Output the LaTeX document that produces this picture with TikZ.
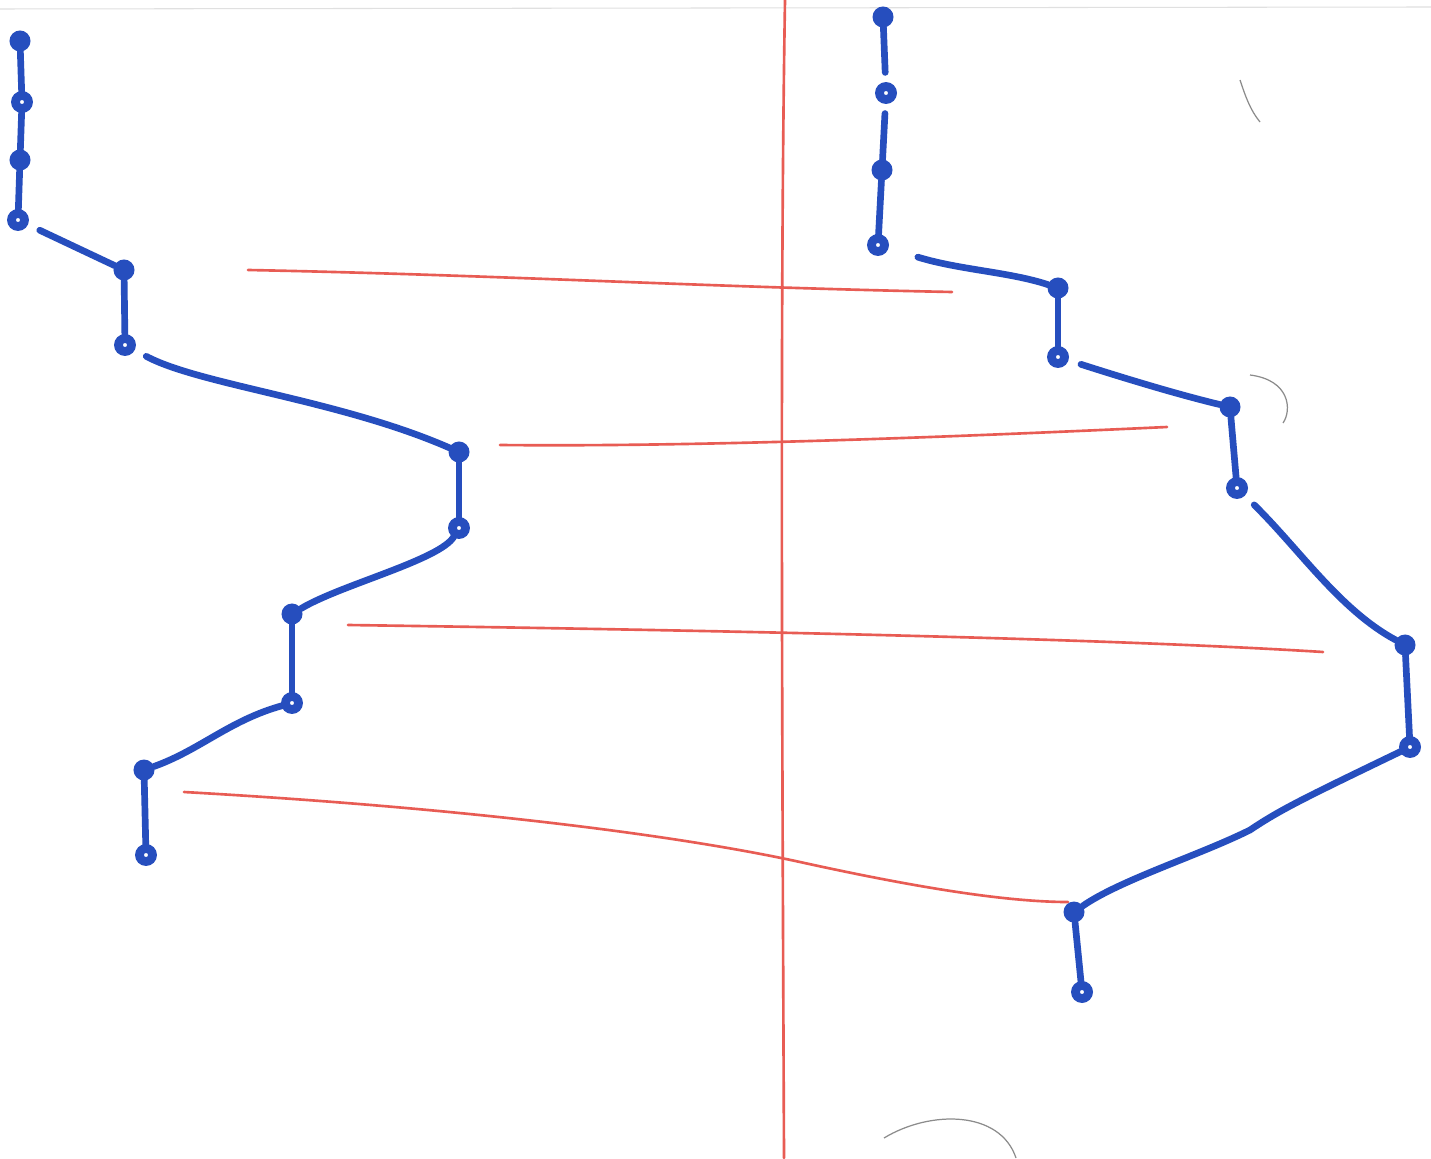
\documentclass[tikz,border=0pt]{standalone}
\begin{document}
\begin{tikzpicture}[x=0.01cm,y=-0.01cm,
  pen/.style={draw=penblue,line width=1.9pt,line cap=round,line join=round},
  redline/.style={draw=redink,line width=0.75pt,line cap=round},
  faint/.style={draw=black!45,line width=0.35pt},
  fdot/.style={circle,fill=penblue,minimum size=0.21cm,inner sep=0pt,outer sep=0pt},
  odot/.style={circle,draw=penblue,line width=2.5pt,fill=white,minimum size=0.13cm,inner sep=0pt,outer sep=1pt}]
\definecolor{penblue}{RGB}{38,78,190}
\definecolor{redink}{RGB}{232,92,84}
\useasboundingbox[fill=white] (0,0) rectangle (1431,1158);
% faint marks
\draw[draw=black!12,line width=0.3pt] (0,9) -- (1431,7);
\draw[faint] (1250,375) .. controls (1290,380) and (1292,410) .. (1283,423);
\draw[faint] (884,1138) .. controls (930,1110) and (1000,1110) .. (1016,1158);
\draw[faint] (1240,80) .. controls (1245,95) and (1250,110) .. (1260,122);
% red lines
\coordinate (v1) at (785,0);
\coordinate (v2) at (784,1158);
\draw[redline] (v1) .. controls (780,300) and (782,700) .. (v2);
\coordinate (h1a) at (248,270); \coordinate (h1b) at (952,292);
\draw[redline] (h1a) .. controls (500,275) and (700,287) .. (h1b);
\coordinate (h2a) at (500,445); \coordinate (h2b) at (1167,427);
\draw[redline] (h2a) .. controls (700,447) and (950,437) .. (h2b);
\coordinate (h3a) at (348,625); \coordinate (h3b) at (1323,652);
\draw[redline] (h3a) .. controls (700,630) and (1100,638) .. (h3b);
\coordinate (h4a) at (184,792); \coordinate (h4b) at (1068,902);
\draw[redline] (h4a) .. controls (500,810) and (700,840) .. (800,862) .. controls (900,884) and (1000,902) .. (h4b);
% left chain
\node[fdot] (L1) at (20,41) {};
\node[odot] (L2) at (22,102) {};
\node[fdot] (L3) at (20,160) {};
\node[odot] (L4) at (18,220) {};
\node[fdot] (L5) at (124,270) {};
\node[odot] (L6) at (125,345) {};
\node[fdot] (L7) at (459,452) {};
\node[odot] (L8) at (459,528) {};
\node[fdot] (L9) at (292,614) {};
\node[odot] (L10) at (292,703) {};
\node[fdot] (L11) at (144,770) {};
\node[odot] (L12) at (146,855) {};
\draw[pen] (L1) -- (L2);
\draw[pen] (L2) -- (L3);
\draw[pen] (L3) -- (L4);
\draw[pen,shorten <=4pt] (L4) -- (L5);
\draw[pen] (L5) -- (L6);
\draw[pen,shorten <=4pt] (L6) .. controls (200,385) and (340,400) .. (L7);
\draw[pen] (L7) -- (L8);
\draw[pen] (L8) .. controls (440,560) and (340,585) .. (L9);
\draw[pen] (L9) -- (L10);
\draw[pen] (L10) .. controls (230,720) and (200,750) .. (L11);
\draw[pen] (L11) -- (L12);
% right chain
\node[fdot] (R1) at (883,17) {};
\node[odot] (R2) at (886,93) {};
\node[fdot] (R3) at (882,170) {};
\node[odot] (R4) at (878,245) {};
\node[fdot] (R5) at (1058,288) {};
\node[odot] (R6) at (1058,357) {};
\node[fdot] (R7) at (1230,407) {};
\node[odot] (R8) at (1237,488) {};
\node[fdot] (R9) at (1405,645) {};
\node[odot] (R10) at (1410,747) {};
\node[fdot] (R11) at (1074,912) {};
\node[odot] (R12) at (1082,992) {};
\draw[pen,shorten >=3pt] (R1) -- (R2);
\draw[pen,shorten <=3pt] (R2) -- (R3);
\draw[pen] (R3) -- (R4);
\draw[pen,shorten <=9pt] (R4) .. controls (960,270) and (1010,272) .. (R5);
\draw[pen] (R5) -- (R6);
\draw[pen,shorten <=4pt] (R6) .. controls (1130,380) and (1180,395) .. (R7);
\draw[pen] (R7) -- (R8);
\draw[pen,shorten <=4pt] (R8) .. controls (1300,550) and (1340,610) .. (R9);
\draw[pen] (R9) -- (R10);
\draw[pen] (R10) .. controls (1300,800) and (1280,810) .. (1250,830) .. controls (1200,855) and (1120,880) .. (R11);
\draw[pen] (R11) -- (R12);
\end{tikzpicture}
\end{document}
